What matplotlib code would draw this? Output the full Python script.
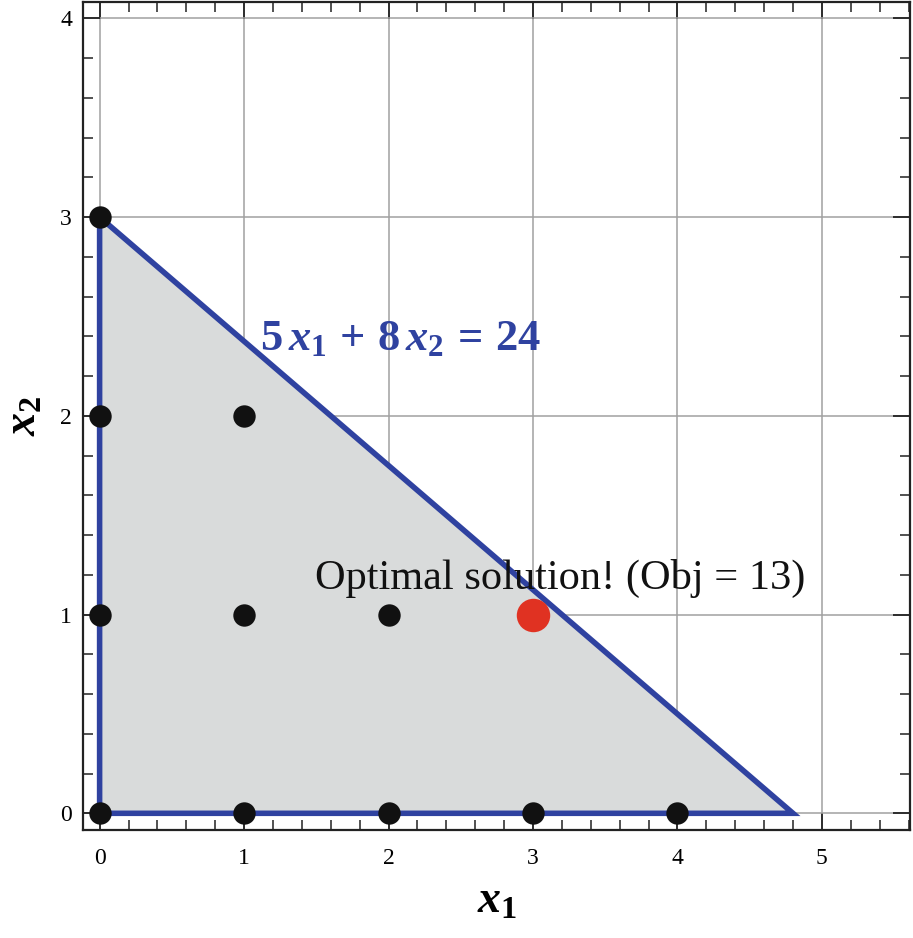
import matplotlib
matplotlib.use("Agg")
import matplotlib.pyplot as plt
import numpy as np
from matplotlib.ticker import MultipleLocator

plt.rcParams['font.family'] = ['Liberation Serif', 'DejaVu Serif']
plt.rcParams['mathtext.fontset'] = 'custom'
plt.rcParams['mathtext.rm'] = 'Liberation Serif:bold'
plt.rcParams['mathtext.it'] = 'Liberation Serif:bold:italic'
plt.rcParams['mathtext.bf'] = 'Liberation Serif:bold'

# Feasible region vertices (5 x1 + 8 x2 <= 24, x1, x2 >= 0)
region_x = [0, 0, 4.8]
region_y = [0, 3, 0]

# Integer feasible points
pts_x = [0, 0, 0, 0, 1, 1, 1, 2, 2, 3, 4]
pts_y = [0, 1, 2, 3, 0, 1, 2, 0, 1, 0, 0]

# Optimal solution
opt_x = [3]
opt_y = [1]

x_ticks = [0, 1, 2, 3, 4, 5]
y_ticks = [0, 1, 2, 3, 4]

blue = '#2f42a0'

fig = plt.figure(figsize=(9.13, 9.38), dpi=100)
ax = fig.add_axes([83/913, 1 - 830/938, (910-83)/913, (830-2)/938])

ax.set_xlim(-0.115, 5.61)
ax.set_ylim(-0.084, 4.082)

ax.grid(True, color='#a0a0a0', linewidth=1.1)
ax.set_axisbelow(True)

ax.fill(region_x, region_y, facecolor='#d9dbdb', edgecolor='none', zorder=1)
ax.plot(region_x + [region_x[0]], region_y + [region_y[0]], color=blue,
        linewidth=4.0, solid_joinstyle='miter', zorder=2)

ax.scatter(pts_x, pts_y, s=260, color='#111111', zorder=3, linewidths=0)
ax.scatter(opt_x, opt_y, s=580, color='#e03222', zorder=4, linewidths=0)

ax.text(1.11, 2.33, r'$5\,x_1\,+\,8\,x_2\,=\,24$', color=blue, fontsize=32,
        ha='left', va='baseline', zorder=5)
ax.text(3.19, 1.13, 'Optimal solution! (Obj = 13)', color='#111111',
        fontsize=30.5, ha='center', va='baseline', zorder=5)

ax.set_xticks(x_ticks)
ax.set_yticks(y_ticks)
ax.xaxis.set_minor_locator(MultipleLocator(0.2))
ax.yaxis.set_minor_locator(MultipleLocator(0.2))
ax.tick_params(which='both', direction='in', top=True, right=True, color='#222222')
ax.tick_params(which='major', length=12, width=1.3, labelsize=17)
ax.tick_params(which='minor', length=7, width=1.1)
ax.tick_params(axis='x', which='major', pad=13)
ax.tick_params(axis='y', which='major', pad=8)
ax.tick_params(labeltop=False, labelright=False)
for s in ax.spines.values():
    s.set_linewidth(1.6)
    s.set_color('#222222')

ax.set_xlabel(r'$x_1$', fontsize=33, labelpad=8)
ax.set_ylabel(r'$x_2$', fontsize=33, labelpad=10)

fig.savefig('out.png', dpi=100)
